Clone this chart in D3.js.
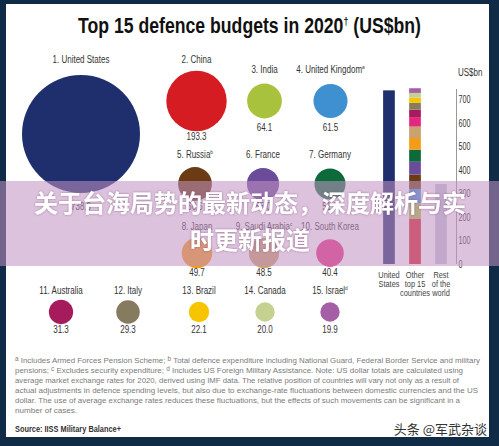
<!DOCTYPE html>
<html><head><meta charset="utf-8">
<script src="https://cdn.jsdelivr.net/npm/d3@7"></script>
<style>body{margin:0;background:#0f2b45;}svg{display:block;}</style>
</head><body>
<script>
// ---- data ----
const countries = ["United States","China","India","United Kingdom","Russia","France","Germany","Japan","Saudi Arabia","South Korea","Australia","Italy","Brazil","Canada","Israel"];
const noteMarks = ["","","","a","b","","","","c","","","","","","d"];
const budgets = [738.0,193.3,64.1,61.5,60.6,55.0,51.3,49.7,48.5,40.4,31.3,29.3,22.1,20.0,19.9];
const restOfWorld = 340;
const barCategories = [["United","States"],["Other","top 15","countries"],["Rest","of the","world"]];
const axisTicks = [0,100,200,300,400,500,600,700];
const footnotes = [
  [["a","sup"],[" Includes Armed Forces Pension Scheme; "],["b","sup"],[" Total defence expenditure including National Guard, Federal Border Service and military"]],
  [["pensions; "],["c","sup"],[" Excludes security expenditure;  "],["d","sup"],[" Includes US Foreign Military Assistance. Note: US dollar totals are calculated using"]],
  [["average market exchange rates for 2020, derived using IMF data. The relative position of countries will vary not only as a result of"]],
  [["actual adjustments in defence spending levels, but also due to exchange-rate fluctuations between domestic currencies and the US"]],
  [["dollar. The use of average exchange rates reduces these fluctuations, but the effects of such movements can be significant in a"]],
  [["number of cases."]]
];
const titleText = "Top 15 defence budgets in 2020";
const sourceText = "Source: IISS Military Balance+";
const overlayLines = ["关于台海局势的最新动态，深度解析与实","时更新报道"];
const watermark = "头条 @军武杂谈";

// ---- styles / layout ----
const colors = ["#1f2e6d","#d41c22","#a9c23d","#3f90d1","#6b3b14","#6a4c9b","#0d6b3b","#f39c19","#c9a26c","#e5287f","#a51b5c","#867b5e","#f6c500","#c4d191","#a45fa6"];
const restColor = "#c2c5d4";
// cell layout: [cx, cy, labelY, valueY]
const cells = [
  [81,134,63,210],[196.5,101,63,140],[264.5,101,73,131],[330.5,101,73,131],
  [195,184,158,210],[263,184,158,210],[330,184,158,210],
  [197,253,230,276],[264,253,230,276],[330,253,230,276],
  [61,312,294,333],[128,312,294,333],[199,312,294,333],[265,312,294,333],[330,312,294,333]
];
const footWidths = [465,448,444,463,445,62];

const W=499,H=446;
const svg = d3.select("body").append("svg").attr("width",W).attr("height",H);
svg.append("rect").attr("width",W).attr("height",H).attr("fill","#0f2b45");
svg.append("rect").attr("x",6).attr("y",4).attr("width",483).attr("height",433).attr("fill","#ffffff");

const FONT = "'Liberation Sans', Arial, sans-serif";
function squeeze(sel, k){ sel.each(function(){ const w=this.getComputedTextLength(); d3.select(this).attr("textLength",w*k).attr("lengthAdjust","spacingAndGlyphs");}); }

// title
const title = svg.append("text").attr("x",78).attr("y",33).attr("font-family",FONT).attr("font-weight","bold").attr("font-size",21.5).attr("fill","#111");
title.append("tspan").text(titleText);
title.append("tspan").text("†").attr("font-size",11).attr("dy",-8);
title.append("tspan").text(" (US$bn)").attr("dy",8);
title.attr("textLength",343).attr("lengthAdjust","spacingAndGlyphs");

// circles
const r = d3.scaleSqrt().domain([0,738]).range([0,59]);
const g = svg.append("g");
countries.forEach((c,i)=>{
  const [cx,cy,ly,vy]=cells[i];
  g.append("circle").attr("cx",cx).attr("cy",cy).attr("r",r(budgets[i])).attr("fill",colors[i]);
  const t = g.append("text").attr("x",cx).attr("y",ly).attr("text-anchor","middle").attr("font-family",FONT).attr("font-size",10).attr("fill","#333");
  t.append("tspan").text((i+1)+". "+c);
  if(noteMarks[i]) t.append("tspan").text(noteMarks[i]).attr("font-size",6).attr("dy",-4);
  squeeze(t,0.8);
  const v = g.append("text").attr("x",cx).attr("y",vy).attr("text-anchor","middle").attr("font-family",FONT).attr("font-size",10).attr("fill","#333").text(d3.format(".1f")(budgets[i]));
  squeeze(v,0.8);
});

// bars
const y = d3.scaleLinear().domain([0,700]).range([264,99.3]);
const x = d3.scaleBand().domain([0,1,2]).range([374,456]).paddingInner(0.55).paddingOuter(0.35);
const bw = x.bandwidth();
svg.append("rect").attr("x",x(0)).attr("width",bw).attr("y",y(budgets[0])).attr("height",y(0)-y(budgets[0])).attr("fill",colors[0]);
let acc=0;
for(let i=1;i<budgets.length;i++){
  svg.append("rect").attr("x",x(1)).attr("width",bw).attr("y",y(acc+budgets[i])).attr("height",y(acc)-y(acc+budgets[i])).attr("fill",colors[i]);
  acc+=budgets[i];
}
svg.append("rect").attr("x",x(2)).attr("width",bw).attr("y",y(restOfWorld)).attr("height",y(0)-y(restOfWorld)).attr("fill",restColor);
barCategories.forEach((lines,j)=>{
  lines.forEach((ln,k)=>{
    const t=svg.append("text").attr("x",x(j)+bw/2).attr("y",278+k*9).attr("text-anchor","middle").attr("font-family",FONT).attr("font-size",9).attr("fill","#444").text(ln);
    squeeze(t,0.82);
  });
});
// axis
const axisG = svg.append("g").attr("transform","translate(456.5,0)");
axisG.call(d3.axisRight(y).tickValues(axisTicks).tickSize(0).tickPadding(2));
axisG.select(".domain").attr("stroke","#999").attr("d","M0,89V264");
axisG.selectAll("text").attr("font-family",FONT).attr("font-size",10).attr("fill","#333").attr("text-anchor","start").attr("x",2).call(s=>squeeze(s,0.72));
const unit = svg.append("text").attr("x",458).attr("y",76).attr("font-family",FONT).attr("font-size",10).attr("fill","#333").text("US$bn");
squeeze(unit,0.8);

// footnotes
footnotes.forEach((parts,i)=>{
  const t=svg.append("text").attr("x",15).attr("y",363+i*10).attr("font-family",FONT).attr("font-size",8).attr("fill","#7a7a7a");
  parts.forEach(p=>{
    const ts=t.append("tspan").text(p[0]);
    if(p[1]==="sup") ts.attr("font-size",6.5).attr("baseline-shift","2");
  });
  t.attr("textLength",footWidths[i]).attr("lengthAdjust","spacingAndGlyphs");
});
svg.append("text").attr("x",15).attr("y",432).attr("font-family",FONT).attr("font-weight","bold").attr("font-size",9).attr("fill","#333").text(sourceText).attr("textLength",106).attr("lengthAdjust","spacingAndGlyphs");
svg.append("text").attr("x",487).attr("y",434).attr("text-anchor","end").attr("font-family","'Noto Sans CJK SC', sans-serif").attr("font-size",13).attr("fill","#333").text(watermark);

// overlay band
svg.append("rect").attr("x",0).attr("y",181).attr("width",W).attr("height",85).attr("fill","rgba(195,146,195,0.56)");
const defs = svg.append("defs");
const f = defs.append("filter").attr("id","sh").attr("x","-5%").attr("y","-20%").attr("width","110%").attr("height","140%");
f.append("feDropShadow").attr("dx",0).attr("dy",0).attr("stdDeviation",1.2).attr("flood-color","#6a3a6a").attr("flood-opacity",0.6);
overlayLines.forEach((ln,i)=>{
  svg.append("text").attr("x",250).attr("y",[212,249][i]).attr("text-anchor","middle").attr("font-family","'Noto Sans CJK SC', sans-serif").attr("font-weight","bold").attr("font-size",24).attr("fill","#ffffff").attr("filter","url(#sh)").text(ln);
});
</script>
</body></html>
